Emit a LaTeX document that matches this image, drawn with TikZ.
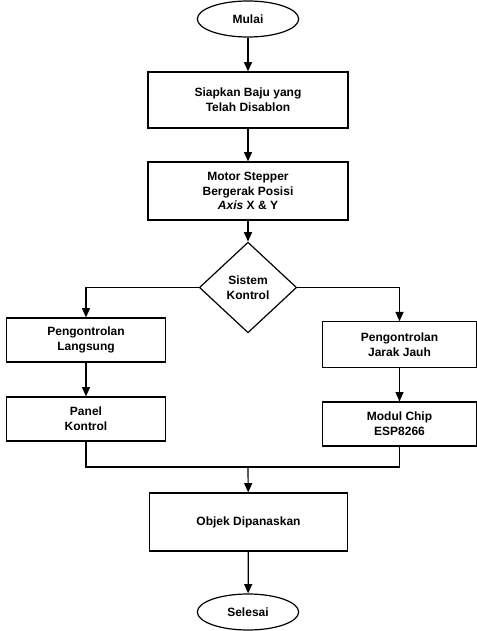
\documentclass[tikz,border=0pt]{standalone}
\usepackage{fontspec}
\setmainfont{Liberation Sans}
\usetikzlibrary{shapes.geometric,arrows.meta}

\begin{document}
\begin{tikzpicture}[%
      x=0.75pt, y=-0.75pt,
      font=\bfseries\fontsize{9}{11}\selectfont,
      garis/.style={line width=0.9pt},
      panah/.style={garis, -{Triangle[length=7pt,width=6pt]}},
      kotak/.style={draw, garis, align=center, inner sep=0pt},
      elips/.style={draw, garis, ellipse, inner sep=0pt, minimum width=76pt, minimum height=27pt},
      belah/.style={draw, garis, diamond, align=center, inner sep=0pt, minimum width=73pt, minimum height=68pt},
      ]
      \useasboundingbox (0,0) rectangle (477,631);

      \node [elips] (mulai) at (248,19) {Mulai};
      \node [kotak, minimum width=150pt, minimum height=42pt] (siapkan) at (248,100)
            {Siapkan Baju yang\\Telah Disablon};
      \node [kotak, minimum width=150pt, minimum height=43.5pt] (motor) at (248,191)
            {Motor Stepper\\Bergerak Posisi\\\textit{Axis} X \& Y};
      \node [belah] (sistem) at (248,287.5) {Sistem\\Kontrol};

      \node [kotak, minimum width=119pt, minimum height=33pt] (langsung) at (86,340)
            {Pengontrolan\\Langsung};
      \node [kotak, minimum width=119pt, minimum height=33pt] (panel) at (86,419)
            {Panel\\Kontrol};
      \node [kotak, minimum width=115pt, minimum height=34pt] (jauh) at (399.5,344.5)
            {Pengontrolan\\Jarak Jauh};
      \node [kotak, minimum width=115pt, minimum height=33pt] (modul) at (399.5,424)
            {Modul Chip\\ESP8266};

      \coordinate (gabung) at (248,467);
      \node [kotak, minimum width=149pt, minimum height=43.5pt] (objek) at (248.5,522)
            {Objek Dipanaskan};
      \node [elips] (selesai) at (248,612) {Selesai};

      \draw [panah] (mulai) -- (siapkan);
      \draw [panah] (siapkan) -- (motor);
      \draw [panah] (motor) -- (sistem);
      \draw [panah] (sistem.west) -| (langsung.north);
      \draw [panah] (sistem.east) -| (jauh.north);
      \draw [panah] (langsung) -- (panel);
      \draw [panah] (jauh) -- (modul);
      \draw [garis] (panel.south) |- (gabung);
      \draw [garis] (modul.south) |- (gabung);
      \draw [panah] (gabung) -- (objek);
      \draw [panah] (objek) -- (selesai);
      \end{tikzpicture}
\end{document}
